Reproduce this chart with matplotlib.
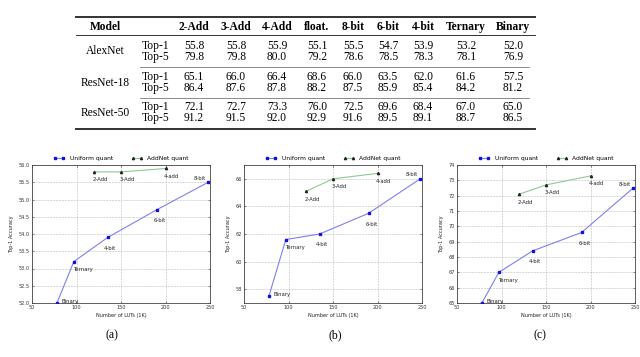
import matplotlib
matplotlib.use("Agg")
import matplotlib.pyplot as plt
from matplotlib.lines import Line2D

# ---------------- data ----------------
columns = ["2-Add", "3-Add", "4-Add", "float.", "8-bit", "6-bit", "4-bit", "Ternary", "Binary"]
models = ["AlexNet", "ResNet-18", "ResNet-50"]
alexnet_top1 = ["55.8", "55.8", "55.9", "55.1", "55.5", "54.7", "53.9", "53.2", "52.0"]
alexnet_top5 = ["79.8", "79.8", "80.0", "79.2", "78.6", "78.5", "78.3", "78.1", "76.9"]
resnet18_top1 = ["65.1", "66.0", "66.4", "68.6", "66.0", "63.5", "62.0", "61.6", "57.5"]
resnet18_top5 = ["86.4", "87.6", "87.8", "88.2", "87.5", "85.9", "85.4", "84.2", "81.2"]
resnet50_top1 = ["72.1", "72.7", "73.3", "76.0", "72.5", "69.6", "68.4", "67.0", "65.0"]
resnet50_top5 = ["91.2", "91.5", "92.0", "92.9", "91.6", "89.5", "89.1", "88.7", "86.5"]

uniform_labels = ["Binary", "Ternary", "4-bit", "6-bit", "8-bit"]
uniform_luts = [78, 97, 135, 190, 248]
addnet_labels = ["2-Add", "3-Add", "4-add"]
addnet_luts = [120, 150, 201]

uniform_a = [52.0, 53.2, 53.9, 54.7, 55.5]
addnet_a = [55.8, 55.8, 55.9]
uniform_b = [57.5, 61.6, 62.0, 63.5, 66.0]
addnet_b = [65.1, 66.0, 66.4]
uniform_c = [65.0, 67.0, 68.4, 69.6, 72.5]
addnet_c = [72.1, 72.7, 73.3]

captions = ["(a)", "(b)", "(c)"]

W, H = 640, 357
fig = plt.figure(figsize=(W / 100, H / 100), dpi=100)

def fx(x):
    return x / W

def fy(y):
    return 1 - y / H

# ---------------- table ----------------
serif = "Liberation Serif"
col_x = [194, 236, 277, 317, 353, 388, 423, 466, 513]
fs_tab = 8.3
fig.text(fx(105), fy(27), "Model", ha="center", va="center", family=serif,
         fontweight="bold", fontsize=fs_tab)
for cx, c in zip(col_x, columns):
    fig.text(fx(cx), fy(27), c, ha="center", va="center", family=serif,
             fontweight="bold", fontsize=fs_tab)

rows = [(alexnet_top1, alexnet_top5), (resnet18_top1, resnet18_top5), (resnet50_top1, resnet50_top5)]
row_y = [(46, 57), (77, 88), (107, 118)]
for m, (t1, t5), (y1, y5) in zip(models, rows, row_y):
    fig.text(fx(105), fy((y1 + y5) / 2), m, ha="center", va="center", family=serif, fontsize=fs_tab)
    fig.text(fx(142), fy(y1), "Top-1", ha="left", va="center", family=serif, fontsize=fs_tab)
    fig.text(fx(142), fy(y5), "Top-5", ha="left", va="center", family=serif, fontsize=fs_tab)
    for cx, v1, v5 in zip(col_x, t1, t5):
        fig.text(fx(cx), fy(y1), v1, ha="center", va="center", family=serif, fontsize=fs_tab)
        fig.text(fx(cx), fy(y5), v5, ha="center", va="center", family=serif, fontsize=fs_tab)

def hline(y, x0, x1, lw, color="#333333"):
    fig.add_artist(Line2D([fx(x0), fx(x1)], [fy(y), fy(y)], lw=lw, color=color,
                          transform=fig.transFigure))

hline(17, 76, 535, 1.4)
hline(34.5, 76, 535, 0.7)
hline(67, 140, 529, 0.6, "#777777")
hline(98, 140, 529, 0.6, "#777777")
hline(129, 76, 535, 1.4)

# ---------------- plots ----------------
panels = [
    (32, uniform_a, addnet_a, (52.0, 56.0), [52.0 + 0.5 * i for i in range(9)], "%.1f"),
    (244, uniform_b, addnet_b, (57, 67), [58, 60, 62, 64, 66], "%d"),
    (457, uniform_c, addnet_c, (65, 74), list(range(65, 75)), "%d"),
]
ax_w = 178
ax_top, ax_bot = 165, 303

# label offsets (points), ha, va
u_off = {"Binary": (3, -1, "left", "bottom"), "Ternary": (0, -4, "left", "top"),
         "4-bit": (-3, -6, "left", "top"), "6-bit": (-2, -6, "left", "top"),
         "8-bit": (-6, 1, "center", "bottom")}
a_off = {"2-Add": (-1, -4, "left", "top"), "3-Add": (-1, -4, "left", "top"),
         "4-add": (-2, -4, "left", "top")}

for i, (left, uni, add, ylim, yt, fmt) in enumerate(panels):
    ax = fig.add_axes([fx(left), fy(ax_bot), ax_w / W, (ax_bot - ax_top) / H])
    lu, = ax.plot(uniform_luts, uni, color="#7f7ff2", lw=0.8, marker="s", ms=1.6,
                  mfc="#1010e0", mec="#1010e0", label="Uniform quant", zorder=3)
    la, = ax.plot(addnet_luts, add, color="#8fc98f", lw=0.8, marker="^", ms=1.6,
                  mfc="#224422", mec="#222222", label="AddNet quant", zorder=3)
    for xv, yv, lab in zip(uniform_luts, uni, uniform_labels):
        dx, dy, ha, va = u_off[lab]
        ax.annotate(lab, (xv, yv), xytext=(dx, dy), textcoords="offset points",
                    ha=ha, va=va, fontsize=3.8, color="#222222")
    for xv, yv, lab in zip(addnet_luts, add, addnet_labels):
        dx, dy, ha, va = a_off[lab]
        ax.annotate(lab, (xv, yv), xytext=(dx, dy), textcoords="offset points",
                    ha=ha, va=va, fontsize=3.8, color="#222222")
    ax.set_xlim(50, 250)
    ax.set_ylim(*ylim)
    ax.set_xticks([50, 100, 150, 200, 250])
    ax.set_yticks(yt)
    ax.set_yticklabels([fmt % v for v in yt])
    ax.tick_params(labelsize=3.6, length=1.5, width=0.4, direction="in",
                   top=True, right=True, pad=1.5, colors="#333333")
    ax.grid(True, ls="--", lw=0.4, color="#bbbbbb")
    ax.set_axisbelow(True)
    for s in ax.spines.values():
        s.set_linewidth(0.6)
        s.set_color("#444444")
    ax.set_xlabel("Number of LUTs (1K)", fontsize=3.6, labelpad=2, color="#222222")
    ax.set_ylabel("Top-1 Accuracy", fontsize=3.6, labelpad=3, color="#222222")
    ax.legend(handles=[lu, la], loc="lower center", bbox_to_anchor=(0.5, 1.0), ncol=2,
              frameon=False, fontsize=4.3, handlelength=2.0, columnspacing=3,
              borderaxespad=0.2, handletextpad=0.8, numpoints=2)

cap_x = [112, 335, 540]
for cx, c in zip(cap_x, captions):
    fig.text(fx(cx), fy(335), c, ha="center", va="center", family=serif, fontsize=8.5)

fig.savefig("out.png", dpi=100)
